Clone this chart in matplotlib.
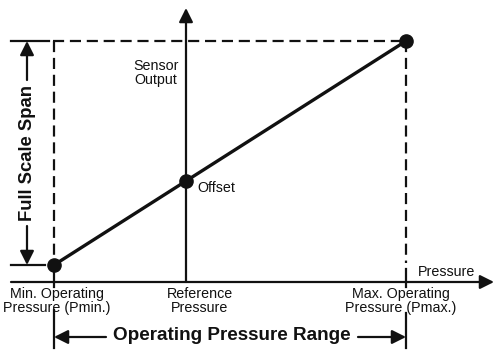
import matplotlib
matplotlib.use("Agg")
import matplotlib.pyplot as plt

# ---- data (normalized pressure / normalized output) ----
point_names = ["Pmin", "Offset", "Pmax"]
pressure = [0.0, 0.375, 1.0]
output = [0.0, 0.375, 1.0]
tick_labels = ["Min. Operating\nPressure (Pmin.)", "Reference\nPressure", "Max. Operating\nPressure (Pmax.)"]

plt.rcParams['font.family'] = ['Liberation Sans', 'DejaVu Sans']
INK = "#111111"

fig = plt.figure(figsize=(5.0, 3.56), dpi=100)
ax = fig.add_axes([0, 0, 1, 1])
# pixel -> data helpers for layout only
def X(px):
    return (px - 54) / 352.0
def Y(py):
    return (265 - py) / 224.0
ax.set_xlim(X(0), X(500))
ax.set_ylim(Y(356), Y(0))
ax.axis("off")

pmin, pref, pmax = pressure
omin, oref, omax = output
axis_y = Y(282)

def arrow(x0, y0, x1, y1, lw=1.6, ms=12, hl=0.7, hw=0.35):
    ax.annotate("", xy=(x1, y1), xytext=(x0, y0),
                arrowprops=dict(arrowstyle=f"-|>,head_length={hl},head_width={hw}",
                                lw=lw, color=INK, shrinkA=0, shrinkB=0,
                                mutation_scale=ms))

# axes
arrow(X(11), axis_y, X(494), axis_y)
arrow(pref, axis_y, pref, Y(8))

# dashed guides
dash = dict(color=INK, lw=1.6, dashes=(5, 2.6))
ax.plot([X(53), pmax], [omax, omax], **dash)
ax.plot([pmin, pmin], [omax, omin], **dash)
ax.plot([pmax, pmax], [omax, Y(263)], **dash)

# solid short segments
ax.plot([pmin, pmin], [omin, Y(287)], color=INK, lw=1.6)
ax.plot([pmax, pmax], [Y(269), Y(287)], color=INK, lw=1.6)
ax.plot([pmin, pmin], [Y(310), Y(348)], color=INK, lw=1.6)
ax.plot([pmax, pmax], [Y(313), Y(348)], color=INK, lw=1.6)

# full scale span ticks
ax.plot([X(11), X(49)], [omax, omax], color=INK, lw=1.6)
ax.plot([X(11), X(45)], [omin, omin], color=INK, lw=1.6)

# main line + points
ax.plot(pressure, output, color=INK, lw=2.4, solid_capstyle="round")
ax.plot(pressure, output, "o", color=INK, ms=9.5)

# full scale span arrows and text
arrow(X(27), Y(80), X(27), omax)
arrow(X(27), Y(226), X(27), omin)
ax.text(X(27), Y(153), "Full Scale Span", rotation=90, ha="center", va="center",
        fontsize=13.3, fontweight="bold", color=INK)

# operating pressure range
arrow(X(106), Y(337), pmin, Y(337))
arrow(X(358), Y(337), pmax, Y(337))
ax.text(X(232), Y(336), "Operating Pressure Range", ha="center", va="center",
        fontsize=13.6, fontweight="bold", color=INK)

# tick labels
label_x = [X(57), X(200), X(401)]
for lx, t in zip(label_x, tick_labels):
    ax.text(lx, Y(301), t, ha="center", va="center", fontsize=10.3,
            linespacing=1.0, color=INK)

ax.text(X(418), Y(272), "Pressure", ha="left", va="center", fontsize=10.3, color=INK)
ax.text(X(156), Y(73), "Sensor\nOutput", ha="center", va="center", fontsize=10.3,
        linespacing=1.0, color=INK)
ax.text(pref + (X(197) - X(186)), Y(188), "Offset", ha="left", va="center",
        fontsize=10.3, color=INK)

fig.savefig("out.png", dpi=100, facecolor="white")
